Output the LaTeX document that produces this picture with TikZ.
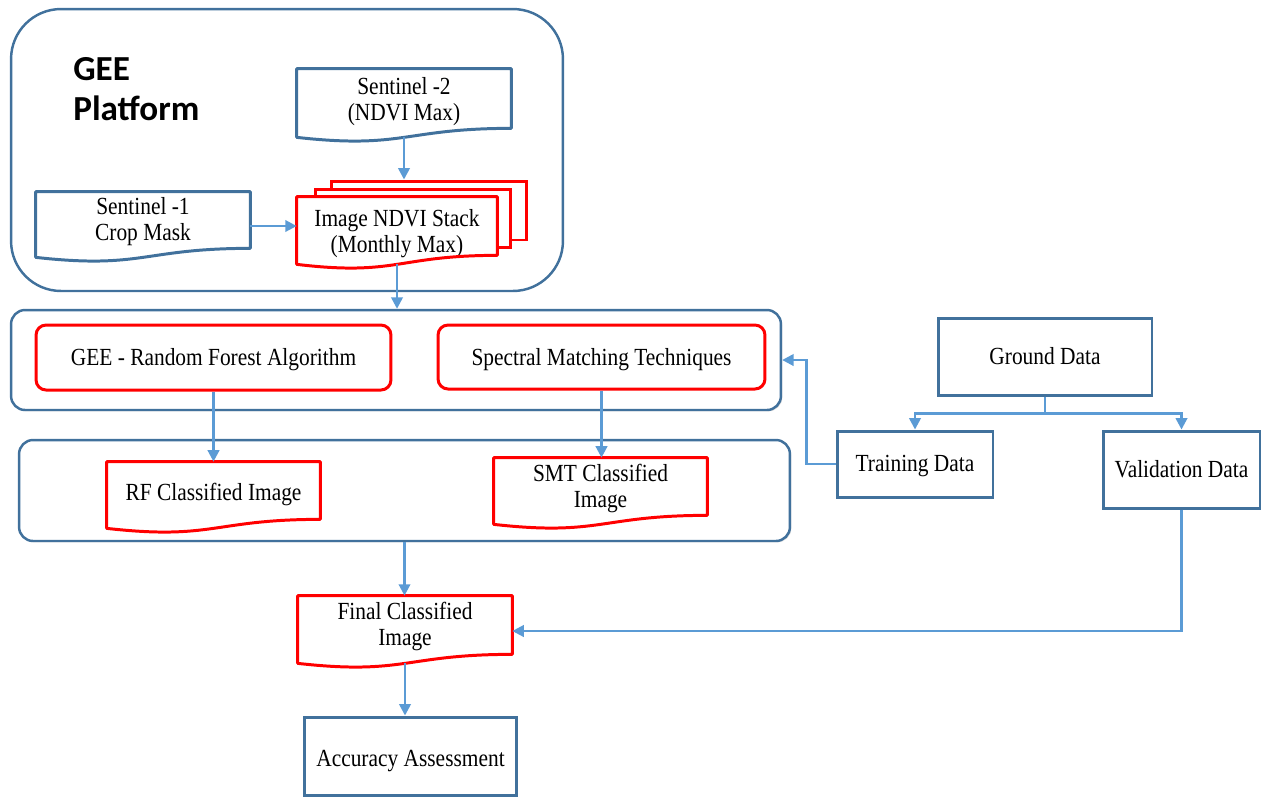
\documentclass[tikz,border=0pt]{standalone}
\usepackage{fontspec}
\setmainfont[FakeStretch=0.87]{Liberation Serif}
\newfontfamily\geefont{Carlito}
\usetikzlibrary{arrows.meta,calc,shadows}
\definecolor{boxblue}{HTML}{41719C}
\definecolor{flowblue}{HTML}{5B9BD5}
\definecolor{docred}{HTML}{FF0000}

\begin{document}
\begin{tikzpicture}[x=0.02cm, y=-0.02cm,
    font=\fontsize{14}{15}\selectfont,
    grupo/.style={rectangle, draw=boxblue, line width=1.4pt, rounded corners=0.28cm},
    sombra/.style={fill=white, drop shadow={shadow xshift=0.8pt, shadow yshift=-0.8pt, opacity=0.25}},
    metodo/.style={rectangle, draw=docred, line width=1.7pt, rounded corners=0.2cm, fill=white, align=center},
    datos/.style={rectangle, draw=boxblue, line width=1.7pt, fill=white, align=center},
    hoja/.style={rectangle, fill=white, align=center, inner sep=0pt},
    capa/.style={rectangle, draw=docred, line width=1.7pt, fill=white, minimum width=3.92cm, minimum height=1.18cm},
    linea/.style={text height=13pt, text depth=3.4pt},
    flujo/.style={-{Triangle[length=6.5pt,width=6.5pt]}, draw=flowblue, line width=1.4pt},
]
\useasboundingbox (0,0) rectangle (1267,796);

% plataforma GEE
\node (gee) [grupo, rounded corners=1cm, minimum width=11.04cm, minimum height=5.64cm] at (287,150) {};
\node (titulo) [anchor=north west, align=left, inner sep=0pt, font=\geefont\bfseries\fontsize{20}{23}\selectfont] at (73,57) {GEE\\Platform};

\node (s2) [hoja, minimum width=4.28cm, minimum height=1.18cm, text height=28pt, text depth=2.5pt] at (404,98.5) {Sentinel -2\\(NDVI Max)};
\node (s1) [hoja, minimum width=4.28cm, minimum height=1.12cm, text height=26.5pt, text depth=2.7pt] at (143,220) {Sentinel -1\\Crop Mask};
\node (stackc) [capa] at (429,210.5) {};
\node (stackb) [capa, minimum height=1.16cm] at (413,218) {};
\node (stack) [hoja, minimum width=4cm, minimum height=1.16cm, text height=31.5pt, text depth=0.9pt] at (397,226) {Image NDVI Stack\\(Monthly Max)};

% clasificacion
\node (alg) [grupo, sombra, minimum width=15.4cm, minimum height=2cm] at (396,360) {};
\node (rf) [metodo, linea, minimum width=7.1cm, minimum height=1.3cm] at (213.5,357.5) {GEE - Random Forest Algorithm};
\node (smt) [metodo, linea, text height=13.4pt, minimum width=6.54cm, minimum height=1.28cm] at (601.5,357) {Spectral Matching Techniques};

\node (cls) [grupo, sombra, minimum width=15.42cm, minimum height=2.02cm] at (404.5,490.5) {};
\node (rfimg) [hoja, minimum width=4.26cm, minimum height=1.14cm, text height=14pt, text depth=3.2pt] at (213.5,490.5) {RF Classified Image};
\node (smtimg) [hoja, minimum width=4.26cm, minimum height=1.14cm, text height=26.5pt, text depth=2.1pt] at (600.5,486.5) {SMT Classified\\Image};

\node (final) [hoja, minimum width=4.28cm, minimum height=1.16cm, text height=26.5pt, text depth=2.7pt] at (405,625) {Final Classified\\Image};
\node (acc) [datos, minimum width=4.26cm, minimum height=1.56cm, text height=15.6pt, text depth=3.2pt] at (410.5,756) {Accuracy Assessment};

% datos de campo
\node (ground) [datos, linea, minimum width=4.28cm, minimum height=1.54cm] at (1045,356.5) {Ground Data};
\node (train) [datos, linea, text height=12.4pt, minimum width=3.12cm, minimum height=1.32cm] at (915,464) {Training Data};
\node (valid) [datos, linea, minimum width=3.14cm, minimum height=1.54cm] at (1181.5,469.5) {Validation Data};

% contornos de documento
\foreach \n/\c in {s2/boxblue, s1/boxblue, stack/docred, rfimg/docred, smtimg/docred, final/docred}
  \draw [draw=\c, line width=1.7pt, line join=round] (\n.north west) -- (\n.north east) -- (\n.south east)
    .. controls (\n.south) and ($(\n.south)+(0,21)$) .. ($(\n.south west)+(0,9)$) -- cycle;

\draw [flujo] ($(s2.south)+(0,9)$) -- (s2.south |- stackc.north);
\draw [flujo] (s1.east |- stack.west) -- (stack.west);
\draw [flujo] ($(stack.south)+(0,9)$) -- (stack.south |- alg.north);
\draw [flujo] (rf.south) -- (rfimg.north);
\draw [flujo] (smt.south) -- (smt.south |- smtimg.north);
\draw [flujo] (cls.south) -- (cls.south |- final.north);
\draw [flujo] ($(final.south)+(0,9)$) -- (final.south |- acc.north);
\draw [flujo] (ground.south) -- ++(0,17) -| (train.north);
\draw [flujo] (ground.south) -- ++(0,17) -| (valid.north);
\draw [flujo] (train.west) -- ++(-29,0) |- (alg.east);
\draw [flujo] (valid.south) |- ($(final.east)+(0,6)$);

\end{tikzpicture}
\end{document}
